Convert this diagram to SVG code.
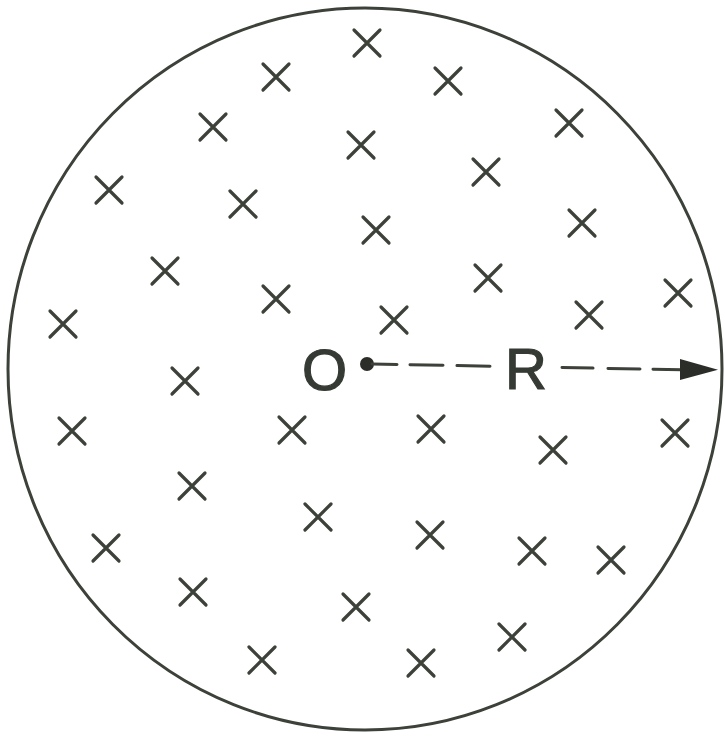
<svg xmlns="http://www.w3.org/2000/svg" width="725" height="736" viewBox="0 0 725 736">
<defs>
<style>
.x{stroke:#3c4139;stroke-width:3.2;stroke-linecap:round;fill:none}
.c{stroke:#3c4139;stroke-width:3;fill:none}
.d{stroke:#3c4139;stroke-width:3;stroke-linecap:round;fill:none}
.t{font-family:"Liberation Sans",Arial,sans-serif;font-size:58px;fill:#363a34;stroke:#363a34;stroke-width:1.2}
</style>
<path id="cr" class="x" d="M-13,-13L13,13M13,-13L-13,13"/>
</defs>
<rect width="725" height="736" fill="#ffffff"/>
<g id="boundary">
<ellipse class="c" cx="365" cy="369" rx="357" ry="361"/>
</g>
<g id="crosses">
<use href="#cr" x="367" y="43"/>
<use href="#cr" x="276" y="77"/>
<use href="#cr" x="448" y="81"/>
<use href="#cr" x="213" y="127"/>
<use href="#cr" x="569" y="123"/>
<use href="#cr" x="361" y="145"/>
<use href="#cr" x="109" y="190"/>
<use href="#cr" x="486" y="172"/>
<use href="#cr" x="243" y="204"/>
<use href="#cr" x="376" y="230"/>
<use href="#cr" x="582" y="223"/>
<use href="#cr" x="165" y="271"/>
<use href="#cr" x="488" y="278"/>
<use href="#cr" x="276" y="299"/>
<use href="#cr" x="678" y="293"/>
<use href="#cr" x="63" y="324"/>
<use href="#cr" x="394" y="320"/>
<use href="#cr" x="589" y="315"/>
<use href="#cr" x="185" y="381"/>
<use href="#cr" x="72" y="431"/>
<use href="#cr" x="292" y="430"/>
<use href="#cr" x="431" y="429"/>
<use href="#cr" x="553" y="450"/>
<use href="#cr" x="675" y="433"/>
<use href="#cr" x="192" y="486"/>
<use href="#cr" x="318" y="517"/>
<use href="#cr" x="430" y="535"/>
<use href="#cr" x="106" y="548"/>
<use href="#cr" x="532" y="551"/>
<use href="#cr" x="611" y="560"/>
<use href="#cr" x="193" y="592"/>
<use href="#cr" x="356" y="607"/>
<use href="#cr" x="512" y="637"/>
<use href="#cr" x="262" y="660"/>
<use href="#cr" x="421" y="663"/>
</g>
<g id="center-O">
<circle cx="367" cy="364" r="7" fill="#2a2d28"/>
<text class="t" x="302" y="390">O</text>
</g>
<g id="connectors">
<path class="d" d="M372,364L397,364.5M410,364.7L443,365.3M457,365.6L490,366.2M562,367.5L593,368.1M608,368.4L640,369M653,369.2L682,369.7"/>
<polygon points="680,359 718,369.8 680,380" fill="#2a2d28"/>
</g>
<g id="label-R">
<text class="t" x="505" y="389">R</text>
</g>
</svg>
